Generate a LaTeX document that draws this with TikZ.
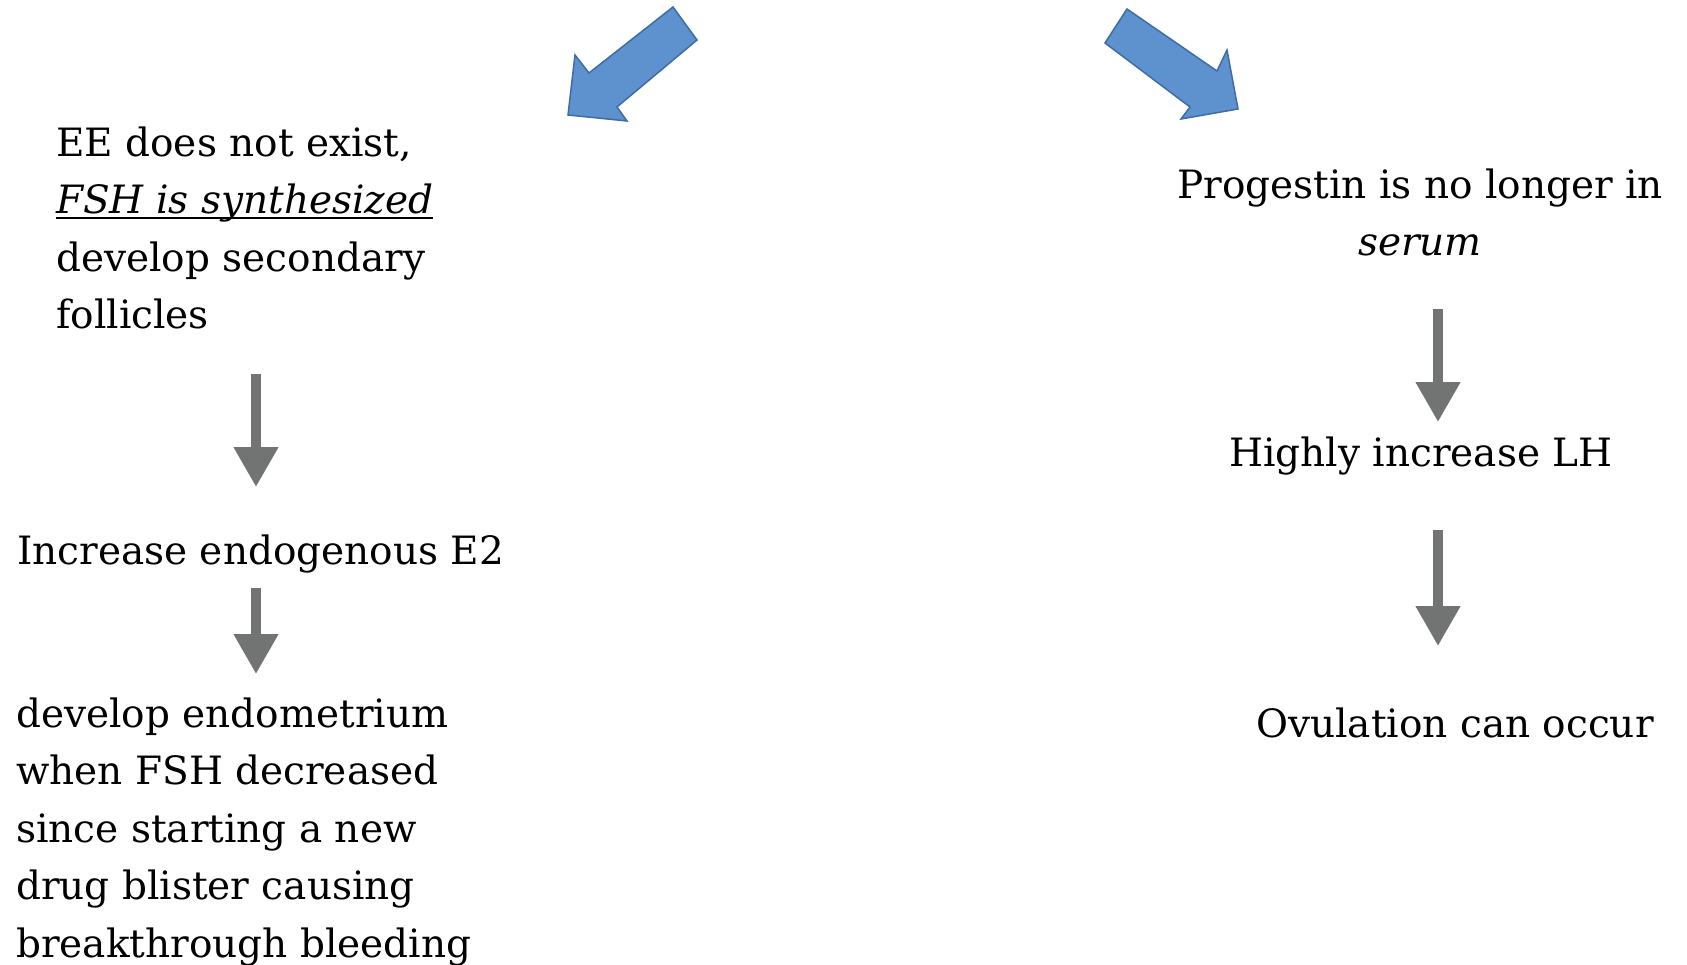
\documentclass[tikz,border=0pt]{standalone}
\usepackage{fontspec}
\setmainfont{DejaVu Serif}
\usetikzlibrary{arrows.meta,positioning}

\definecolor{arrowblue}{RGB}{93,146,206}
\definecolor{arrowedge}{RGB}{62,108,166}
\definecolor{arrowgray}{RGB}{114,116,115}

\newcommand{\ulinetxt}[1]{\setbox0\hbox{#1}\rlap{\rule[-5pt]{\wd0}{2pt}}\box0}

\tikzset{
  txt/.style={font=\fontsize{39}{57.5}\selectfont, inner sep=0pt, align=left, anchor=base west},
  ctxt/.style={txt, align=center, anchor=base},
  downarrow/.style={draw=arrowgray, line width=10pt, -{Triangle[width=42pt,length=40pt]}},
  bigarrow/.style={fill=arrowblue, draw=arrowedge, line width=1.5pt, line join=miter}
}

\begin{document}
\begin{tikzpicture}[x=1pt, y=-1pt]
      \useasboundingbox (0,0) rectangle (1687,965);

      \filldraw[bigarrow] (673,7) -- (697,40) -- (617,107) -- (627,121) -- (568,115) -- (575,55) -- (589,73) -- cycle;
      \filldraw[bigarrow] (1127,9) -- (1217,71) -- (1227,50) -- (1238,109) -- (1181,119) -- (1190,107) -- (1105,43) -- cycle;

      \node[txt] (ee) at (56,329) {EE does not exist,\\ \ulinetxt{\itshape FSH is synthesized}\\ develop secondary\\ follicles};
      \node[txt] (incr) at (17,564) {Increase endogenous E2};
      \node[txt] (endo) at (16,957) {develop endometrium\\ when FSH decreased\\ since starting a new\\ drug blister causing\\ breakthrough bleeding};

      \node[ctxt] (prog) at (1420,256) {Progestin is no longer in\\ \textit{serum}};
      \node[ctxt] (lh) at (1421,467) {Highly increase LH};
      \node[ctxt] (ovu) at (1455,737) {Ovulation can occur};

      \coordinate (lx) at (256,0);
      \coordinate (rx) at (1438,0);

      \draw[downarrow] ([yshift=-44pt]ee.south -| lx) -- ([yshift=47pt]incr.north -| lx);
      \draw[downarrow] ([yshift=-15pt]incr.south -| lx) -- ([yshift=23pt]endo.north -| lx);
      \draw[downarrow] ([yshift=-52pt]prog.south -| rx) -- ([yshift=15pt]lh.north -| rx);
      \draw[downarrow] ([yshift=-54pt]lh.south -| rx) -- ([yshift=61pt]ovu.north -| rx);
  \end{tikzpicture}
\end{document}
